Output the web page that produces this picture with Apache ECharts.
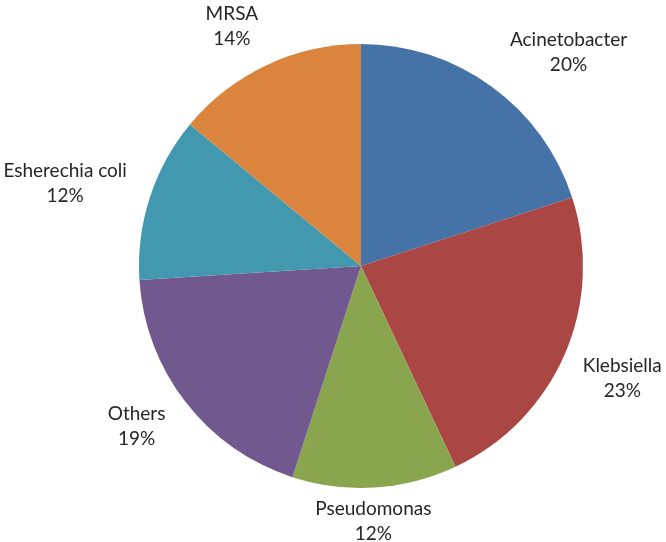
<!DOCTYPE html>
<html>
<head>
<meta charset="utf-8">
<script src="https://cdn.jsdelivr.net/npm/echarts@6/dist/echarts.min.js"></script>
<style>
html,body{margin:0;padding:0;background:#fff;}
#chart{width:666px;height:542px;}
</style>
</head>
<body>
<div id="chart"></div>
<script>
var categories = ['Acinetobacter', 'Klebsiella', 'Pseudomonas', 'Others', 'Esherechia coli', 'MRSA'];
var values = [20, 23, 12, 19, 12, 14];
var colors = ['#4572A7', '#AA4643', '#89A54E', '#71588F', '#4198AF', '#DB843D'];
// small manual label nudges (px) to mimic the original label placement
var labelNudge = [[39, 18], [6, 2], [-4, -5], [-11, -5], [-12, 10], [-16, 1]];

var CX = 361, CY = 266, R = 222, GAP = 10;
var total = values.reduce(function (a, b) { return a + b; }, 0);

var chart = echarts.init(document.getElementById('chart'));
chart.setOption({
  animation: false,
  color: colors,
  series: [{
    type: 'pie',
    center: [CX, CY],
    radius: R,
    startAngle: 90,
    clockwise: true,
    avoidLabelOverlap: false,
    itemStyle: { borderWidth: 0 },
    label: {
      show: true,
      position: 'outside',
      formatter: function (p) { return p.name + '\n' + Math.round(p.percent) + '%'; },
      fontFamily: 'Lato',
      fontSize: 19,
      lineHeight: 25,
      color: '#262626',
      align: 'center'
    },
    labelLine: { show: false, length: 10, length2: 0 },
    labelLayout: function (params) {
      var i = params.dataIndex;
      var before = 0;
      for (var k = 0; k < i; k++) before += values[k];
      var mid = (before + values[i] / 2) / total * Math.PI * 2;
      var dx = Math.sin(mid), dy = -Math.cos(mid);
      var w = params.labelRect.width, h = params.labelRect.height;
      var ext = w / 2 * Math.abs(dx) + h / 2 * Math.abs(dy);
      var d = R + GAP + ext;
      return {
        x: CX + d * dx + labelNudge[i][0],
        y: CY + d * dy + labelNudge[i][1],
        align: 'center', verticalAlign: 'middle'
      };
    },
    data: categories.map(function (c, i) { return { name: c, value: values[i] }; })
  }]
});
</script>
</body>
</html>
